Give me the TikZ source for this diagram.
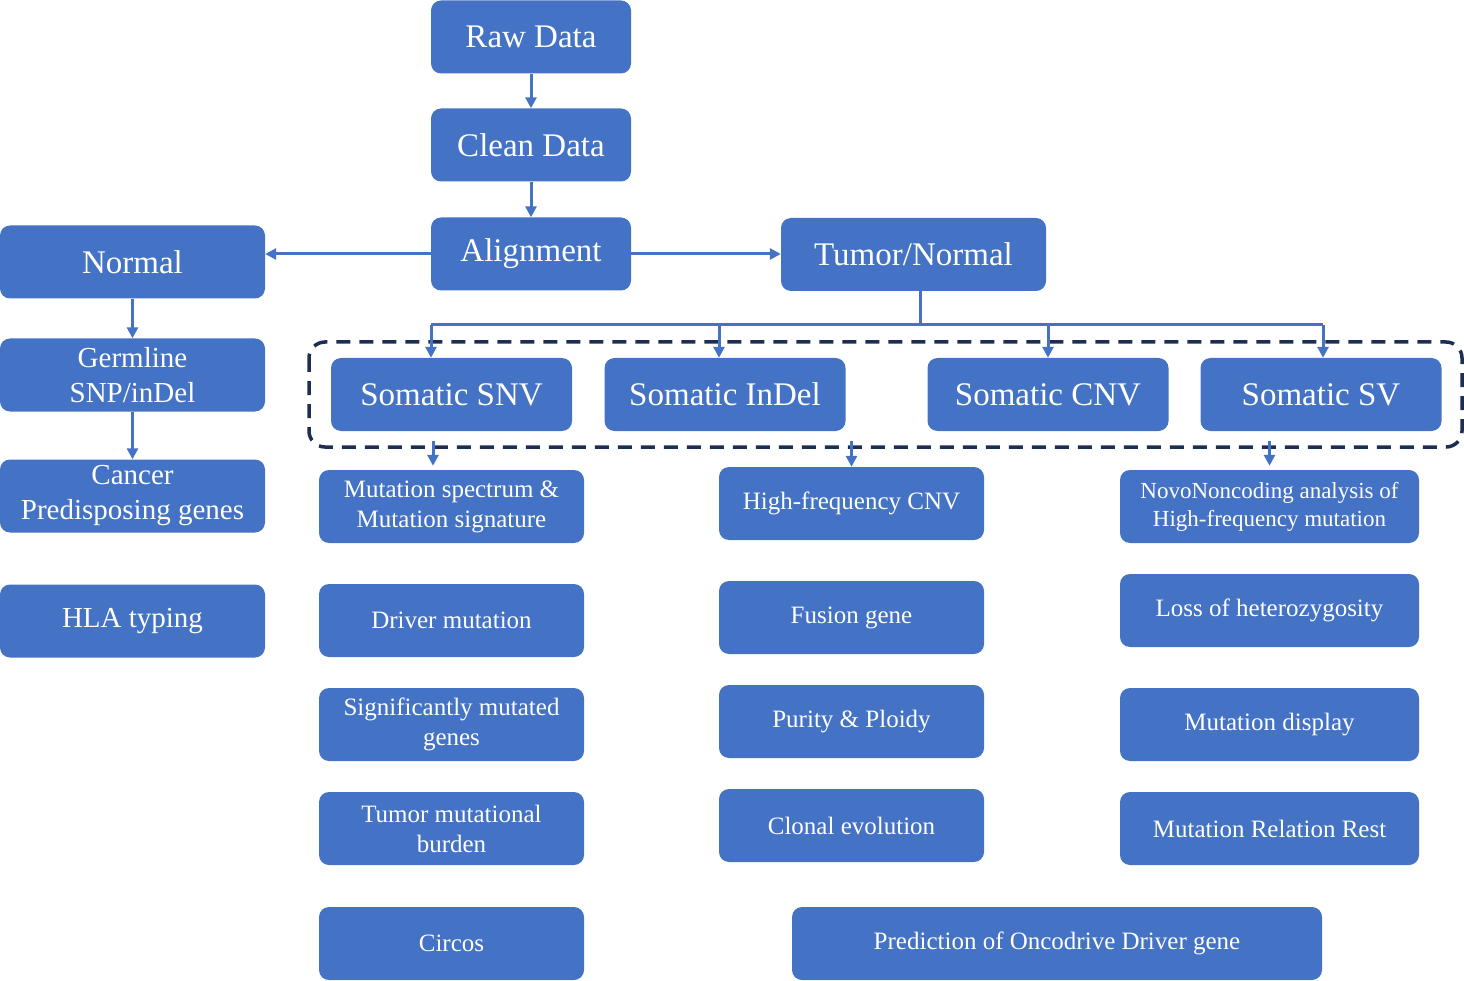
\documentclass[tikz,border=0pt]{standalone}
\usepackage{fontspec}
\setmainfont{Liberation Serif}
\usepackage{tikz}
\usetikzlibrary{positioning,arrows.meta,calc}
\definecolor{wsblue}{HTML}{4472C4}
\definecolor{wsnavy}{HTML}{1C2F52}
\newcommand{\fbig}{\fontsize{33}{40}\selectfont}
\newcommand{\fmid}{\fontsize{29}{35}\selectfont}
\newcommand{\fsml}{\fontsize{25}{30}\selectfont}
\newcommand{\ftny}{\fontsize{23}{28}\selectfont}
\tikzset{
  blk/.style    ={fill=wsblue, text=white, rounded corners=10pt, align=center,
                  inner sep=2pt, minimum height=73pt},
  topbox/.style ={blk, minimum width=200pt, font=\fbig},
  sidebox/.style={blk, minimum width=265pt},
  somabox/.style={blk, minimum width=241pt, font=\fbig},
  subbox/.style ={blk, minimum width=265pt, font=\fsml},
  svbox/.style  ={blk, minimum width=299pt, font=\fsml},
  fl/.style     ={-{Triangle[length=11pt,width=11pt]}, line width=3pt, draw=wsblue},
  ln/.style     ={line width=3pt, draw=wsblue},
}
\begin{document}
\begin{tikzpicture}[x=1pt,y=-1pt,
      grp/.style={draw=wsnavy, line width=3.5pt, dash pattern=on 14pt off 9pt,
                  rounded corners=16pt}]
    \useasboundingbox (0,0) rectangle (1464,981);
    % main line
    \node[topbox] (raw) at (531,37) {Raw Data};
    \node[topbox] (clean) at (531,145) {Clean Data};
    \node[topbox] (align) at (531,254) {Alignment};
    \node[sidebox,font=\fbig] (normal) at (132.5,262) {Normal};
    \node[sidebox,font=\fbig] (tumor) at (913.5,254.5) {Tumor/Normal};
    % germline side
    \node[sidebox,font=\fmid] (germ) at (132.5,375) {Germline\\SNP/inDel};
    \node[sidebox,font=\fmid] (cancer) at (132.5,496) {Cancer\\Predisposing genes};
    \node[sidebox,font=\fmid] (hla) at (132.5,621) {HLA typing};
    % somatic calls
    \draw[grp] (309,342) rectangle (1462,447);
    \node[somabox] (snv) at (451.5,394.5) {Somatic SNV};
    \node[somabox] (indel) at (725,394.5) {Somatic InDel};
    \node[somabox] (cnv) at (1048,394.5) {Somatic CNV};
    \node[somabox] (sv) at (1321,394.5) {Somatic SV};
    % analyses
    \node[subbox] (spec) at (451.5,506.5) {Mutation spectrum \&\\Mutation signature};
    \node[subbox] (driver) at (451.5,620.5) {Driver mutation};
    \node[subbox] (smg) at (451.5,724.5) {Significantly mutated\\genes};
    \node[subbox] (tmb) at (451.5,828.5) {Tumor mutational\\burden};
    \node[subbox] (circos) at (451.5,943.5) {Circos};
    \node[subbox] (hfcnv) at (851.5,503.5) {High-frequency CNV};
    \node[subbox] (fusion) at (851.5,617.5) {Fusion gene};
    \node[subbox] (purity) at (851.5,721.5) {Purity \& Ploidy};
    \node[subbox] (clonal) at (851.5,825.5) {Clonal evolution};
    \node[svbox,font=\ftny] (novo) at (1269.5,506.5) {NovoNoncoding analysis of\\High-frequency mutation};
    \node[svbox] (loh) at (1269.5,610.5) {Loss of heterozygosity};
    \node[svbox] (mdisp) at (1269.5,724.5) {Mutation display};
    \node[svbox] (mrel) at (1269.5,828.5) {Mutation Relation Rest};
    \node[blk,minimum width=530pt,font=\fsml] (onco) at (1057,943.5) {Prediction of Oncodrive Driver gene};
    % arrows
    \draw[fl] (raw) -- (clean);
    \draw[fl] (clean) -- (align);
    \draw[fl] (align.west) -- (align.west -| normal.east);
    \draw[fl] (align.east) -- (align.east -| tumor.west);
    \draw[fl] (normal.south) -- (germ.north);
    \draw[fl] (germ.south) -- (cancer.north);
    \coordinate (bus) at (920,325);
    \coordinate (k1) at (431,325);
    \coordinate (k2) at (719,325);
    \coordinate (k3) at (1048,325);
    \coordinate (k4) at (1323,325);
    \draw[ln] (tumor.south -| bus) -- (bus);
    \draw[ln] (k1) -- (k4);
    \draw[fl] (k1) -- (k1 |- snv.north);
    \draw[fl] (k2) -- (k2 |- indel.north);
    \draw[fl] (k3) -- (k3 |- cnv.north);
    \draw[fl] (k4) -- (k4 |- sv.north);
    \coordinate (d1) at (433,441);
    \coordinate (d2) at (851.5,441);
    \coordinate (d3) at (1269.5,441);
    \draw[fl] (d1) -- ([yshift=4pt]d1 |- spec.north);
    \draw[fl] (d2) -- (d2 |- hfcnv.north);
    \draw[fl] (d3) -- ([yshift=4pt]d3 |- novo.north);
  \end{tikzpicture}
\end{document}
